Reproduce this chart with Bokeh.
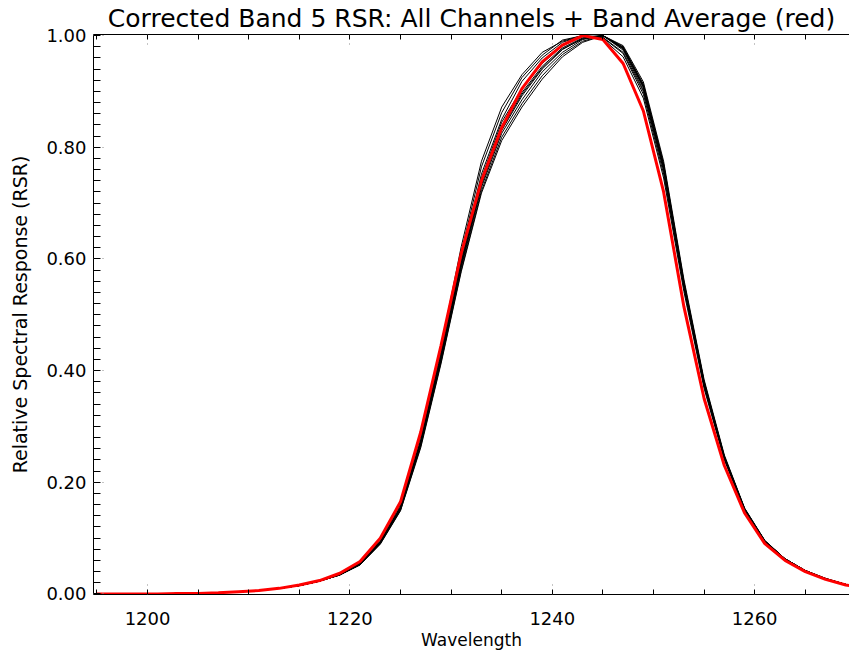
from bokeh.plotting import figure
from bokeh.models import (Range1d, LinearAxis, SingleIntervalTicker, NumeralTickFormatter,
                          CustomJSTickFormatter)
from bokeh.embed import file_html
from bokeh.resources import INLINE

TITLE = "Corrected Band 5 RSR: All Channels + Band Average (red)"
X_LABEL = "Wavelength"
Y_LABEL = "Relative Spectral Response (RSR)"

wavelength = [1195, 1197, 1199, 1201, 1203, 1205, 1207, 1209, 1211, 1213,
              1215, 1217, 1219, 1221, 1223, 1225, 1227, 1229, 1231, 1233,
              1235, 1237, 1239, 1241, 1243, 1245, 1247, 1249, 1251, 1253,
              1255, 1257, 1259, 1261, 1263, 1265, 1267, 1269, 1271]

band_average = [0.000, 0.000, 0.000, 0.000, 0.001, 0.001, 0.002, 0.004, 0.006, 0.010,
                0.016, 0.024, 0.037, 0.058, 0.100, 0.165, 0.290, 0.445, 0.610, 0.740,
                0.835, 0.905, 0.953, 0.983, 1.000, 0.993, 0.950, 0.865, 0.720, 0.515,
                0.350, 0.230, 0.145, 0.090, 0.060, 0.040, 0.026, 0.016, 0.010]

ch01 = [0.000, 0.000, 0.000, 0.000, 0.001, 0.001, 0.002, 0.004, 0.006, 0.010,
        0.015, 0.023, 0.036, 0.056, 0.096, 0.160, 0.282, 0.442, 0.622, 0.775,
        0.872, 0.930, 0.970, 0.990, 1.000, 0.996, 0.968, 0.895, 0.752, 0.548,
        0.372, 0.242, 0.151, 0.094, 0.062, 0.041, 0.027, 0.017, 0.011]
ch02 = [0.000, 0.000, 0.000, 0.000, 0.001, 0.001, 0.002, 0.004, 0.006, 0.010,
        0.015, 0.023, 0.035, 0.055, 0.094, 0.157, 0.276, 0.434, 0.612, 0.765,
        0.862, 0.925, 0.965, 0.992, 1.000, 0.994, 0.962, 0.888, 0.745, 0.542,
        0.368, 0.240, 0.149, 0.093, 0.062, 0.041, 0.027, 0.017, 0.011]
ch03 = [0.000, 0.000, 0.000, 0.000, 0.001, 0.001, 0.002, 0.004, 0.006, 0.010,
        0.015, 0.023, 0.035, 0.054, 0.093, 0.155, 0.274, 0.430, 0.602, 0.752,
        0.850, 0.918, 0.960, 0.988, 1.000, 0.997, 0.970, 0.900, 0.758, 0.551,
        0.374, 0.243, 0.151, 0.094, 0.062, 0.041, 0.027, 0.017, 0.011]
ch04 = [0.000, 0.000, 0.000, 0.000, 0.001, 0.001, 0.002, 0.004, 0.006, 0.010,
        0.015, 0.023, 0.034, 0.053, 0.091, 0.152, 0.268, 0.418, 0.585, 0.728,
        0.825, 0.885, 0.935, 0.970, 0.993, 1.000, 0.978, 0.910, 0.767, 0.556,
        0.378, 0.245, 0.152, 0.095, 0.063, 0.042, 0.027, 0.017, 0.011]
ch05 = [0.000, 0.000, 0.000, 0.000, 0.001, 0.001, 0.002, 0.004, 0.006, 0.010,
        0.015, 0.023, 0.034, 0.052, 0.090, 0.150, 0.265, 0.415, 0.580, 0.722,
        0.818, 0.878, 0.928, 0.966, 0.990, 1.000, 0.980, 0.913, 0.770, 0.560,
        0.381, 0.247, 0.153, 0.095, 0.063, 0.042, 0.028, 0.017, 0.011]
ch06 = [0.000, 0.000, 0.000, 0.000, 0.001, 0.001, 0.002, 0.004, 0.006, 0.010,
        0.015, 0.023, 0.035, 0.054, 0.092, 0.153, 0.270, 0.421, 0.588, 0.732,
        0.830, 0.892, 0.940, 0.975, 0.995, 1.000, 0.976, 0.907, 0.764, 0.554,
        0.377, 0.245, 0.152, 0.095, 0.062, 0.041, 0.027, 0.017, 0.011]
ch07 = [0.000, 0.000, 0.000, 0.000, 0.001, 0.001, 0.002, 0.004, 0.006, 0.010,
        0.015, 0.023, 0.034, 0.053, 0.091, 0.152, 0.268, 0.420, 0.590, 0.738,
        0.838, 0.898, 0.945, 0.978, 0.996, 1.000, 0.977, 0.908, 0.765, 0.555,
        0.378, 0.245, 0.152, 0.095, 0.063, 0.042, 0.027, 0.017, 0.011]
ch08 = [0.000, 0.000, 0.000, 0.000, 0.001, 0.001, 0.002, 0.004, 0.006, 0.010,
        0.015, 0.023, 0.034, 0.052, 0.089, 0.149, 0.262, 0.412, 0.577, 0.718,
        0.812, 0.872, 0.922, 0.962, 0.988, 1.000, 0.982, 0.917, 0.775, 0.564,
        0.384, 0.249, 0.154, 0.096, 0.063, 0.042, 0.028, 0.017, 0.011]
ch09 = [0.000, 0.000, 0.000, 0.000, 0.001, 0.001, 0.002, 0.004, 0.006, 0.010,
        0.015, 0.023, 0.035, 0.054, 0.093, 0.155, 0.273, 0.426, 0.596, 0.745,
        0.845, 0.905, 0.950, 0.982, 0.998, 1.000, 0.974, 0.903, 0.761, 0.552,
        0.375, 0.244, 0.151, 0.094, 0.062, 0.041, 0.027, 0.017, 0.011]
ch10 = [0.000, 0.000, 0.000, 0.000, 0.001, 0.001, 0.002, 0.004, 0.006, 0.010,
        0.015, 0.023, 0.034, 0.053, 0.092, 0.153, 0.271, 0.424, 0.593, 0.735,
        0.833, 0.895, 0.942, 0.976, 0.994, 1.000, 0.979, 0.911, 0.769, 0.558,
        0.380, 0.246, 0.153, 0.095, 0.063, 0.042, 0.027, 0.017, 0.011]

channels = [ch01, ch02, ch03, ch04, ch05, ch06, ch07, ch08, ch09, ch10]

FONT = "DejaVu Sans"

p = figure(frame_width=756, frame_height=560,
           min_border_left=93, min_border_right=0, min_border_top=31, min_border_bottom=58,
           x_range=Range1d(1194.66, 1269.37), y_range=Range1d(-0.001, 1.002),
           output_backend="svg", toolbar_location=None,
           x_axis_label=X_LABEL, y_axis_label=Y_LABEL)

p.title.text = TITLE
p.title.align = "center"
p.title.text_font = FONT
p.title.text_font_size = "25px"
p.title.text_font_style = "normal"
p.title.text_color = "black"
p.title.standoff = 3

p.outline_line_color = None
p.xgrid.visible = False
p.ygrid.visible = False
p.background_fill_color = "white"
p.border_fill_color = "white"

for ch in channels:
    p.line(wavelength, ch, line_color="black", line_width=1)
p.line(wavelength, band_average, line_color="#ff0000", line_width=3)

xticker = SingleIntervalTicker(interval=20, num_minor_ticks=4)
yticker = SingleIntervalTicker(interval=0.2, num_minor_ticks=10)

top = LinearAxis(ticker=xticker, formatter=CustomJSTickFormatter(code="return ''"))
p.add_layout(top, "above")
top.major_label_text_font_size = "1px"
top.major_label_standoff = 0

for ax in p.xaxis + p.yaxis:
    ax.axis_line_color = "black"
    ax.axis_line_width = 1
    ax.major_tick_in = 12
    ax.major_tick_out = 0
    ax.major_tick_line_color = "#8a8a8a"
    ax.major_tick_line_dash = "1 8"
    ax.minor_tick_out = 0
    ax.minor_tick_line_color = "black"
    ax.major_label_text_font = FONT
    ax.major_label_text_color = "black"
    ax.axis_label_text_font = FONT
    ax.axis_label_text_font_style = "normal"
    ax.axis_label_text_color = "black"

for ax in p.xaxis:
    ax.ticker = xticker
    ax.minor_tick_in = 5

bx = p.below[0]
bx.major_label_text_font_size = "18px"
bx.major_label_standoff = 17
bx.axis_label_text_font_size = "17px"
bx.axis_label_standoff = 2

ly = p.yaxis[0]
ly.ticker = yticker
ly.formatter = NumeralTickFormatter(format="0.00")
ly.minor_tick_in = 7
ly.major_label_text_font_size = "18px"
ly.major_label_standoff = 7
ly.axis_label_text_font_size = "19px"
ly.axis_label_standoff = 12

open("out.html", "w").write(file_html(p, INLINE))
